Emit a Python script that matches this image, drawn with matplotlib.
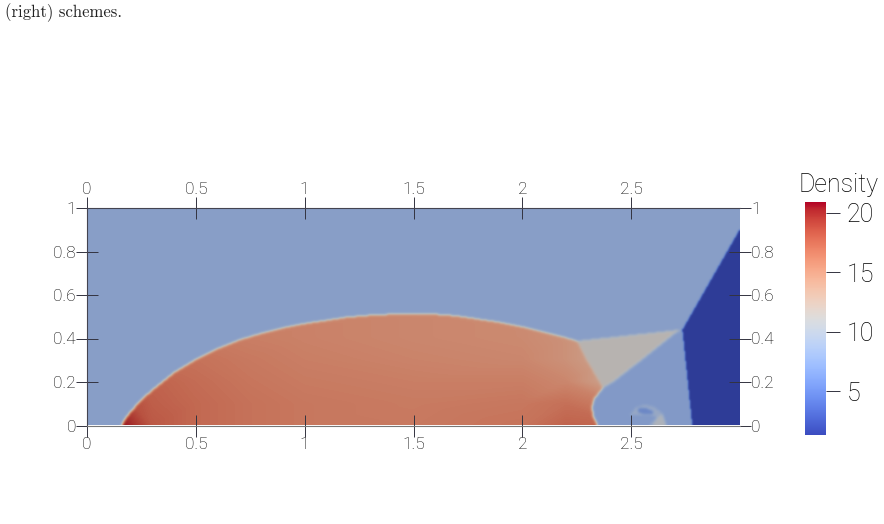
import numpy as np
import matplotlib
matplotlib.use('Agg')
import matplotlib.pyplot as plt
import matplotlib.tri as mtri
from matplotlib.path import Path
from matplotlib.colors import ListedColormap, Normalize
from matplotlib.cm import ScalarMappable

plt.rcParams['font.family'] = ['Roboto', 'DejaVu Sans']
plt.rcParams['font.weight'] = 'light'

# region outlines, in plot coordinates
bow_x = [0.16, 0.17, 0.20, 0.25, 0.30, 0.40, 0.50, 0.60, 0.70, 0.80, 0.90, 1.00, 1.10, 1.20, 1.30, 1.40, 1.50,
         1.60, 1.70, 1.80, 1.90, 2.00, 2.10, 2.20, 2.25]
bow_y = [0.00, 0.02, 0.06, 0.115, 0.16, 0.24, 0.30, 0.35, 0.39, 0.42, 0.445, 0.465, 0.48, 0.495, 0.503, 0.508, 0.51,
         0.508, 0.50, 0.485, 0.47, 0.45, 0.425, 0.40, 0.385]
stem_x = [2.30, 2.37, 2.33, 2.32, 2.325, 2.345]
stem_y = [0.29, 0.17, 0.12, 0.085, 0.04, 0.00]
tan_x = [2.25, 2.73, 2.70, 2.55, 2.42, 2.37, 2.30]
tan_y = [0.385, 0.437, 0.42, 0.30, 0.20, 0.17, 0.29]
pocket_x = [2.37, 2.42, 2.55, 2.70, 2.735, 2.78, 2.345, 2.325, 2.32, 2.33]
pocket_y = [0.17, 0.20, 0.30, 0.42, 0.437, 0.00, 0.00, 0.04, 0.085, 0.12]
ring_x = [2.495, 2.523, 2.564, 2.61, 2.642, 2.66, 2.585, 2.62, 2.585, 2.54]
ring_y = [0.048, 0.08, 0.094, 0.08, 0.053, 0.00, 0.00, 0.035, 0.048, 0.048]
patch_x = [2.60, 2.66, 2.645, 2.62]
patch_y = [0.00, 0.00, 0.05, 0.035]
core_x = [2.53, 2.56, 2.60, 2.60, 2.56, 2.53]
core_y = [0.06, 0.05, 0.05, 0.065, 0.08, 0.075]
fast_x = [2.735, 3.00, 3.00, 2.78]
fast_y = [0.437, 0.90, 0.00, 0.00]

# density
rho_ambient = 8.0
rho_tan = 11.4
rho_pocket = 7.6
rho_ring = 9.0
rho_patch = 10.5
rho_core = 6.0
rho_fast = 1.4
rho_min = 1.3
rho_max = 20.9

# density inside the bow shock
table_x = [0.15, 0.20, 0.30, 0.50, 0.75, 1.00, 1.50, 2.00, 2.20, 2.40]
table_y = [0.0, 0.1, 0.2, 0.3, 0.4, 0.55]
table_rho = [[21.0, 20.0, 18.0, 17.2, 16.7, 16.4, 16.3, 16.6, 17.5, 17.3],
             [19.5, 18.6, 17.7, 17.2, 16.7, 16.4, 16.2, 16.4, 16.8, 16.0],
             [18.0, 18.0, 17.5, 17.0, 16.5, 16.2, 16.0, 16.0, 15.5, 13.5],
             [17.5, 17.5, 17.0, 16.7, 16.3, 16.0, 15.7, 15.5, 14.8, 13.5],
             [16.5, 16.5, 16.5, 16.3, 16.0, 15.8, 15.5, 15.3, 14.8, 13.5],
             [16.5, 16.5, 16.5, 16.3, 16.0, 15.8, 15.5, 15.3, 14.8, 13.5]]

x_ticks = [0, 0.5, 1, 1.5, 2, 2.5]
y_ticks = [0, 0.2, 0.4, 0.6, 0.8, 1]
bar_ticks = [5, 10, 15, 20]


def inside(xs, ys, X, Y):
    pts = np.column_stack([X.ravel(), Y.ravel()])
    return Path(np.column_stack([xs, ys])).contains_points(pts).reshape(X.shape)


def soften(field, sigma):
    # shocks are a couple of pixels wide in the render
    r = int(3 * sigma) + 1
    k = np.exp(-0.5 * (np.arange(-r, r + 1) / sigma) ** 2)
    k /= k.sum()
    for axis in (0, 1):
        pad = [(r, r) if a == axis else (0, 0) for a in (0, 1)]
        field = np.apply_along_axis(lambda v: np.convolve(v, k, mode='valid'), axis, np.pad(field, pad, mode='edge'))
    return field


nx, ny = 653, 218
gx, gy = np.meshgrid((np.arange(nx) + 0.5) / nx * 3, (np.arange(ny) + 0.5) / ny)

tx, ty = np.meshgrid(table_x, table_y)
tri = mtri.Triangulation(tx.ravel(), ty.ravel())
shocked = mtri.LinearTriInterpolator(tri, np.array(table_rho).ravel())(np.clip(gx, 0.15, 2.4), np.clip(gy, 0, 0.55))

rho = np.full(gx.shape, rho_ambient)
mask = inside(bow_x + stem_x, bow_y + stem_y, gx, gy)
rho[mask] = np.asarray(shocked)[mask]
rho[inside(tan_x, tan_y, gx, gy)] = rho_tan
rho[inside(pocket_x, pocket_y, gx, gy)] = rho_pocket
rho[inside(ring_x, ring_y, gx, gy)] = rho_ring
rho[inside(patch_x, patch_y, gx, gy)] = rho_patch
rho[inside(core_x, core_y, gx, gy)] = rho_core
rho = soften(rho, 1.4)
fast = soften(inside(fast_x, fast_y, gx, gy).astype(float), 1.0)
rho = rho * (1 - fast) + rho_fast * fast

norm = Normalize(rho_min, rho_max)
full_cmap = plt.get_cmap('coolwarm')
# the surface is lit, so it comes out darker than its colour bar
pos = np.linspace(0, 1, 256)
lit = full_cmap(pos)
lit[:, :3] *= np.interp(pos, [0, 0.3, 0.5, 1], [0.78, 0.78, 0.82, 0.83])[:, None]
lit_cmap = ListedColormap(lit)

fig = plt.figure(figsize=(8.84, 5.24), dpi=100)
ax = fig.add_axes([87 / 884, (524 - 425.5) / 524, 653 / 884, 217.5 / 524])
ax.imshow(rho, origin='lower', extent=[0, 3, 0, 1], aspect='auto', cmap=lit_cmap, norm=norm, interpolation='bilinear')
ax.set_xlim(0, 3)
ax.set_ylim(0, 1)
ax.set_xticks(x_ticks, [f'{t:g}' for t in x_ticks])
ax.set_yticks(y_ticks, [f'{t:g}' for t in y_ticks])
ax.tick_params(axis='both', direction='inout', length=16, width=0.7, color='#333340', labelsize=12.5, labelcolor='#000000',
               top=True, right=True, labeltop=True, labelright=True, pad=0)
for spine in ax.spines.values():
    spine.set_linewidth(0.8)
    spine.set_color('#444450')
ax.spines['bottom'].set_color('#777777')
ax.spines['right'].set_visible(False)

cax = fig.add_axes([805 / 884, (524 - 435) / 524, 21 / 884, 233 / 524])
cb = fig.colorbar(ScalarMappable(norm=norm, cmap=full_cmap), cax=cax)
cb.set_ticks(bar_ticks)
cb.outline.set_visible(False)
cax.tick_params(direction='out', length=10, width=0.7, color='#333340', labelsize=18, labelcolor='#000000', pad=5)

fig.text(839 / 884, 1 - 185 / 524, 'Density', ha='center', va='center', fontsize=18, color='#000000')
fig.text(5 / 884, 1 - 13 / 524, '(right) schemes.', ha='left', va='center', fontsize=12, family='cmr10', weight='normal', color='#222222')

fig.savefig('out.png', dpi=100)
